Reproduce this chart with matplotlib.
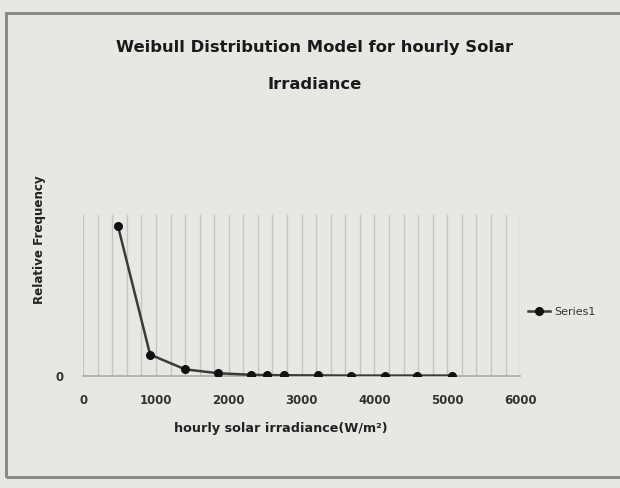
import matplotlib
matplotlib.use("Agg")
import matplotlib.pyplot as plt
from matplotlib.patches import Rectangle
from matplotlib.ticker import MultipleLocator

# Hourly solar irradiance bins (W/m^2) and their Weibull relative frequency
irradiance = [480, 920, 1400, 1850, 2300, 2530, 2760, 3230, 3680, 4140, 4590, 5060]
rel_freq = [0.093, 0.0132, 0.0040, 0.0016, 0.0006, 0.0004, 0.0003, 0.0002,
            0.0001, 0.0001, 0.0001, 0.0001]
x_ticks = [0, 1000, 2000, 3000, 4000, 5000, 6000]
series_name = "Series1"

bg = "#e7e7e4"
fig = plt.figure(figsize=(6.2, 4.88), dpi=100, facecolor=bg)

# chart frame
fig.patches.append(Rectangle((0.01, 0.022), 1.2, 0.952, transform=fig.transFigure,
                             fill=False, edgecolor="#8a8a88", linewidth=2.2))

ax = fig.add_axes([0.134, 0.230, 0.705, 0.329], facecolor=bg)
ax.plot(irradiance, rel_freq, color="#3a3a3a", linewidth=1.8, marker="o",
        markersize=5.5, markerfacecolor="#111111", markeredgecolor="#111111",
        label=series_name, zorder=3)

ax.set_xlim(0, 6000)
ax.set_ylim(0, 0.1)
ax.set_xticks(x_ticks)
ax.set_xticklabels([str(t) for t in x_ticks], fontsize=8.5, fontweight="bold",
                   color="#333333")
ax.set_yticks([0])
ax.set_yticklabels(["0"], fontsize=8.5, fontweight="bold", color="#333333")
ax.xaxis.set_minor_locator(MultipleLocator(200))
ax.grid(True, which="both", axis="x", color="#c4c4c1", linewidth=1.0)
ax.tick_params(which="both", length=0)
ax.tick_params(axis="x", pad=13)
ax.tick_params(axis="y", pad=14)
for side in ("top", "right", "left"):
    ax.spines[side].set_visible(False)
ax.spines["bottom"].set_color("#aaaaa7")
ax.spines["bottom"].set_linewidth(1.2)

ax.set_xlabel("hourly solar irradiance(W/m\u00b2)", fontsize=9.2, fontweight="bold",
              color="#222222")
ax.xaxis.set_label_coords(0.453, -0.29)
ax.set_ylabel("Relative Frequency", fontsize=8.6, fontweight="bold",
              color="#222222")
ax.yaxis.set_label_coords(-0.085, 0.85)

fig.text(0.507, 0.903, "Weibull Distribution Model for hourly Solar",
         ha="center", va="center", fontsize=11.8, fontweight="bold", color="#1a1a1a")
fig.text(0.507, 0.826, "Irradiance", ha="center", va="center", fontsize=11.8,
         fontweight="bold", color="#1a1a1a")

ax.legend(loc="center left", bbox_to_anchor=(0.995, 0.4), frameon=False,
          fontsize=8, handlelength=2.0, handletextpad=0.4,
          labelcolor="#333333")

fig.savefig("out.png", dpi=100, facecolor=bg)
